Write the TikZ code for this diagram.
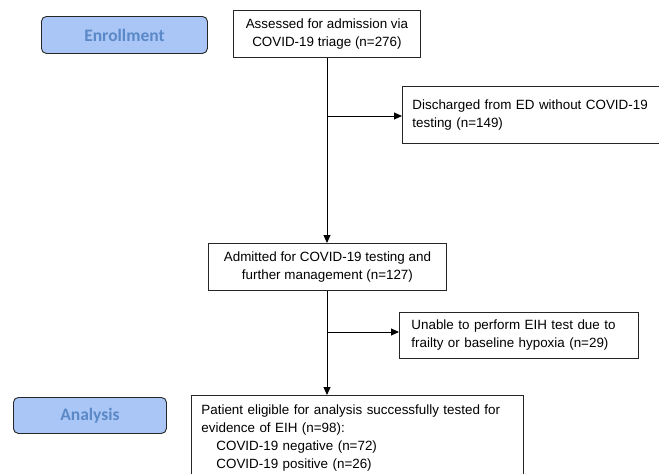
\documentclass[tikz,border=0pt]{standalone}
\usepackage{fontspec}
\setmainfont{Liberation Sans}
\newfontfamily\calib{Carlito}
\usetikzlibrary{arrows.meta}
\definecolor{stagefill}{HTML}{A9C6F6}
\definecolor{stagetext}{HTML}{5B88C6}
\tikzset{
  x=1pt,y=-1pt,
  stagebox/.style={draw=black!85,line width=0.9pt,rounded corners=5pt,fill=stagefill,
    text=stagetext,font=\calib\bfseries\fontsize{17.5}{20}\selectfont,anchor=north west,inner sep=0pt},
  flowbox/.style={draw=black!85,line width=0.9pt,fill=white,anchor=north west,inner sep=0pt,
    font=\fontsize{13.4}{18}\selectfont},
  flowarrow/.style={draw=black,line width=1pt,-{Triangle[length=8pt,width=7pt]}}
}
\begin{document}
\begin{tikzpicture}
\useasboundingbox (0,0) rectangle (659,474);
\clip (0,0) rectangle (659,474);
\node[stagebox,minimum width=166pt,minimum height=37pt] (enr) at (41,16) {Enrollment};
\node[stagebox,minimum width=153pt,minimum height=36pt] (ana) at (13,397) {Analysis};
\node[flowbox,minimum width=187pt,minimum height=47pt,align=center] (b1) at (233,10)
  {Assessed for admission via\\COVID-19 triage (n=276)};
\node[flowbox,minimum width=238pt,minimum height=47pt,align=center] (b2) at (208,243)
  {Admitted for COVID-19 testing and\\further management (n=127)};
\node[flowbox,minimum width=262pt,minimum height=57pt,align=left,text width=242pt] (b3) at (402,86)
  {Discharged from ED without COVID-19\\testing (n=149)};
\node[flowbox,minimum width=239pt,minimum height=46pt,align=left,text width=215pt] (b5) at (399,312)
  {Unable to perform EIH test due to\\frailty or baseline hypoxia (n=29)};
\node[flowbox,minimum width=332pt,minimum height=86pt,align=left,text width=312pt] (b4) at (191,395)
  {Patient eligible for analysis successfully tested for\\evidence of EIH (n=98):\\\hspace*{15pt}COVID-19 negative (n=72)\\\hspace*{15pt}COVID-19 positive (n=26)};
\coordinate (j1) at (327,116);
\coordinate (j2) at (327,332);
\draw[flowarrow] (b1.south -| j1) -- (b2.north -| j1);
\draw[flowarrow] (j1) -- (j1 -| b3.west);
\draw[flowarrow] (b2.south -| j2) -- (b4.north -| j2);
\draw[flowarrow] (j2) -- (j2 -| b5.west);
\end{tikzpicture}
\end{document}
